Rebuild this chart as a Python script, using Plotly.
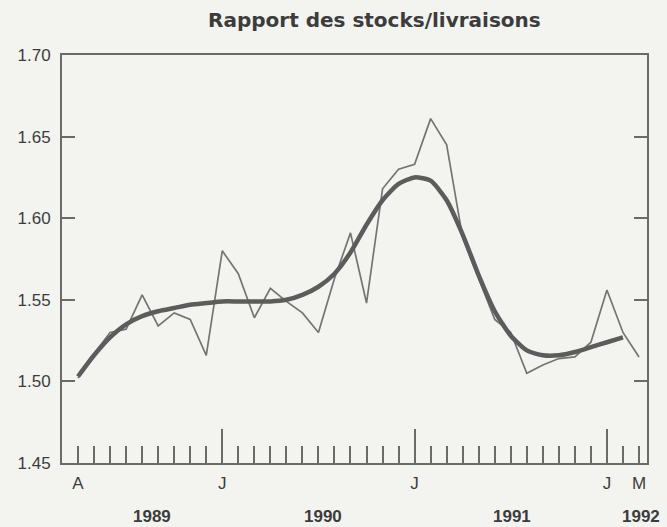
import plotly.graph_objects as go

# ---- data ----
# monthly observations, April 1989 .. March 1992
month_labels = [
    "1989-04", "1989-05", "1989-06", "1989-07", "1989-08", "1989-09", "1989-10", "1989-11", "1989-12",
    "1990-01", "1990-02", "1990-03", "1990-04", "1990-05", "1990-06", "1990-07", "1990-08", "1990-09",
    "1990-10", "1990-11", "1990-12", "1991-01", "1991-02", "1991-03", "1991-04", "1991-05", "1991-06",
    "1991-07", "1991-08", "1991-09", "1991-10", "1991-11", "1991-12", "1992-01", "1992-02", "1992-03",
]
ratio_monthly = [
    1.502, 1.517, 1.530, 1.532, 1.553, 1.534, 1.542, 1.538, 1.516,
    1.580, 1.566, 1.539, 1.557, 1.549, 1.542, 1.530, 1.563, 1.591,
    1.548, 1.618, 1.630, 1.633, 1.661, 1.645, 1.588, 1.563, 1.538,
    1.530, 1.505, 1.510, 1.514, 1.515, 1.524, 1.556, 1.530, 1.515,
]
ratio_smoothed = [
    1.503, 1.516, 1.527, 1.535, 1.540, 1.543, 1.545, 1.547, 1.548,
    1.549, 1.549, 1.549, 1.549, 1.550, 1.553, 1.558, 1.566, 1.579,
    1.596, 1.611, 1.621, 1.625, 1.623, 1.611, 1.590, 1.565, 1.543,
    1.528, 1.519, 1.516, 1.516, 1.518, 1.521, 1.524, 1.527,
]
month_tick_text = {"1989-04": "A", "1990-01": "J", "1991-01": "J", "1992-01": "J", "1992-03": "M"}
year_ticks = ["1990-01", "1991-01", "1992-01"]
year_labels = ["1989", "1990", "1991", "1992"]
year_label_pos = [4.6, 15.3, 27.1, 35.1]   # in month-index units
y_ticks = [1.45, 1.50, 1.55, 1.60, 1.65, 1.70]

title = "Rapport des stocks/livraisons"

# ---- figure ----
idx = {m: i for i, m in enumerate(month_labels)}
x_all = list(range(len(month_labels)))

BG = "#f3f3f0"
AX = "#6a6a6a"
TXT = "#3c3c3c"
FONT = "Liberation Sans, Arial, sans-serif"

fig = go.Figure()
fig.add_trace(go.Scatter(
    x=x_all, y=ratio_monthly, mode="lines",
    line=dict(color="#747474", width=1.7), hoverinfo="skip", showlegend=False,
))
fig.add_trace(go.Scatter(
    x=x_all[:len(ratio_smoothed)], y=ratio_smoothed, mode="lines",
    line=dict(color="#5c5c5c", width=4.5, shape="spline", smoothing=0.6),
    hoverinfo="skip", showlegend=False,
))
# invisible trace so that the overlaid axis carrying the January ticks is drawn
fig.add_trace(go.Scatter(
    x=x_all, y=ratio_monthly, xaxis="x2", mode="lines",
    line=dict(width=0, color="rgba(0,0,0,0)"), hoverinfo="skip", showlegend=False,
))

x_range = [-1, len(month_labels) - 0.5]
fig.update_layout(
    width=667, height=527,
    margin=dict(l=62, r=20, t=55, b=64),
    paper_bgcolor=BG, plot_bgcolor=BG,
    font=dict(family=FONT, color=TXT, size=16),
    xaxis=dict(
        range=x_range, showgrid=False, zeroline=False,
        showline=True, linecolor=AX, linewidth=2, mirror=True,
        tickmode="array", tickvals=x_all,
        ticktext=[month_tick_text.get(m, "") for m in month_labels],
        ticks="inside", ticklen=17, tickwidth=1.6, tickcolor=AX,
        tickfont=dict(size=17, color=TXT), ticklabelstandoff=4,
    ),
    xaxis2=dict(
        overlaying="x", side="bottom", range=x_range,
        showgrid=False, zeroline=False, showline=False,
        tickmode="array", tickvals=[idx[m] for m in year_ticks],
        ticks="inside", ticklen=34, tickwidth=1.6, tickcolor=AX,
        showticklabels=False,
    ),
    yaxis=dict(
        range=[1.45, 1.70], showgrid=False, zeroline=False,
        showline=True, linecolor=AX, linewidth=2, mirror="ticks",
        tickmode="array", tickvals=y_ticks, tickformat=".2f",
        ticks="inside", ticklen=13, tickwidth=1.6, tickcolor=AX,
        tickfont=dict(size=17, color=TXT), ticklabelstandoff=6,
    ),
)

fig.add_annotation(
    text="<b>" + title + "</b>", xref="paper", yref="paper",
    x=0.535, y=1.086, xanchor="center", yanchor="middle", showarrow=False,
    font=dict(size=20, color=TXT, family="DejaVu Sans, Liberation Sans, sans-serif"),
)
for lab, pos in zip(year_labels, year_label_pos):
    fig.add_annotation(
        text="<b>" + lab + "</b>", xref="x", yref="paper",
        x=pos, y=-0.132, xanchor="center", yanchor="middle", showarrow=False,
        font=dict(size=17, color=TXT, family=FONT),
    )

fig.write_html(
    "out.html",
    config={"displayModeBar": False},
    post_script=(
        "document.body.style.margin='0';"
        "document.body.style.overflow='hidden';"
        "document.body.style.background='" + BG + "';"
    ),
)
